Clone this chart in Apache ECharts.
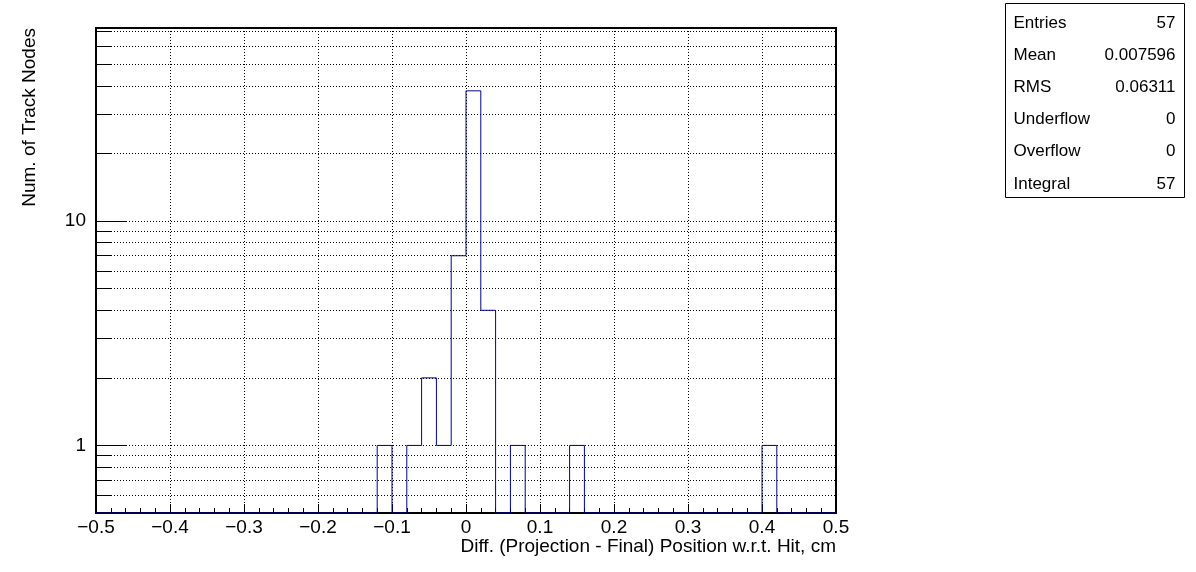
<!DOCTYPE html>
<html>
<head>
<meta charset="utf-8">
<script src="https://cdn.jsdelivr.net/npm/echarts@6/dist/echarts.min.js"></script>
<style>
html,body{margin:0;padding:0;background:#fff;}
#chart{width:1196px;height:572px;}
</style>
</head>
<body>
<div id="chart"></div>
<script>
// ---- data ----
const binLow = -0.5;
const binWidth = 0.02;
const counts = [0,0,0,0,0,0,0,0,0,0, 0,0,0,0,0,0,0,0,0,1, 0,1,2,1,7,38,4,0,1,0, 0,0,1,0,0,0,0,0,0,0, 0,0,0,0,0,1,0,0,0,0];
const xTicks = [-0.5,-0.4,-0.3,-0.2,-0.1,0,0.1,0.2,0.3,0.4,0.5];
const yMajorTicks = [1, 10];
const yAllTicks = [0.6,0.7,0.8,0.9,1,2,3,4,5,6,7,8,9,10,20,30,40,50,60,70];
const statLabels = ['Entries','Mean','RMS','Underflow','Overflow','Integral'];
const statValues = ['57','0.007596','0.06311','0','0','57'];
const xTitle = 'Diff. (Projection - Final) Position w.r.t. Hit, cm';
const yTitle = 'Num. of Track Nodes';

const Y_MIN = 0.5, Y_MAX = 72.4;
const FONT = "'Liberation Sans', Arial, Helvetica, sans-serif";
const LINE_COLOR = '#000099';

const histData = counts.map((c, i) => [binLow + i * binWidth, binLow + (i + 1) * binWidth, c]);

function clampVal(c) { return c > 0 ? c : Y_MIN; }

const chart = echarts.init(document.getElementById('chart'), null, {renderer: 'canvas'});

const statsChildren = [];
statsChildren.push({type: 'rect', shape: {x: 0, y: 0, width: 179, height: 194}, style: {fill: '#fff', stroke: '#000', lineWidth: 1}});
statLabels.forEach((lab, i) => {
  statsChildren.push({type: 'text', x: 8, y: 19.5 + i * 32.2, style: {text: lab, font: '17px ' + FONT, fill: '#000', align: 'left', verticalAlign: 'middle'}});
  statsChildren.push({type: 'text', x: 170, y: 19.5 + i * 32.2, style: {text: statValues[i], font: '17px ' + FONT, fill: '#000', align: 'right', verticalAlign: 'middle'}});
});

const option = {
  backgroundColor: '#fff',
  animation: false,
  grid: {left: 96, right: 360, top: 28, bottom: 59, show: true, borderColor: '#000', borderWidth: 2, backgroundColor: 'transparent'},
  xAxis: {
    type: 'value', min: -0.5, max: 0.5, interval: 0.1,
    axisLine: {show: true, onZero: false, lineStyle: {color: '#000', width: 2}},
    axisTick: {show: true, inside: true, length: 9, lineStyle: {color: '#000', width: 1}},
    minorTick: {show: true, splitNumber: 5, length: 5, lineStyle: {color: '#000', width: 1}},
    splitLine: {show: true, lineStyle: {color: '#000', width: 1, type: [1, 2]}},
    axisLabel: {
      margin: 5, color: '#000', fontSize: 19, fontFamily: FONT,
      formatter: v => {
        const r = Math.round(v * 10) / 10;
        if (r === 0) return '0';
        return (r < 0 ? '\u2212' : '') + Math.abs(r).toFixed(1);
      }
    }
  },
  yAxis: [
    {
      type: 'log', logBase: 10, min: Y_MIN, max: Y_MAX, position: 'left',
      axisLine: {show: true, onZero: false, lineStyle: {color: '#000', width: 2}},
      axisTick: {show: true, inside: true, length: 16, customValues: yAllTicks, lineStyle: {color: '#000', width: 1}},
      splitLine: {show: true, lineStyle: {color: '#000', width: 1, type: [1, 2]}},
      axisLabel: {show: true, customValues: yMajorTicks, margin: 10, color: '#000', fontSize: 19, fontFamily: FONT}
    },
    {
      type: 'log', logBase: 10, min: Y_MIN, max: Y_MAX, position: 'left',
      axisLine: {show: false, onZero: false},
      axisTick: {show: true, inside: true, length: 31, customValues: yMajorTicks, lineStyle: {color: '#000', width: 1}},
      splitLine: {show: false},
      axisLabel: {show: false}
    }
  ],
  series: [{
    type: 'custom',
    coordinateSystem: 'cartesian2d',
    xAxisIndex: 0, yAxisIndex: 0,
    encode: {x: [0, 1], y: 2},
    data: histData,
    z: 5,
    renderItem: function (params, api) {
      const i = params.dataIndex;
      const x0 = api.value(0), x1 = api.value(1), c = api.value(2);
      const prev = i > 0 ? counts[i - 1] : 0;
      const pts = [];
      pts.push(api.coord([x0, clampVal(prev)]));
      pts.push(api.coord([x0, clampVal(c)]));
      pts.push(api.coord([x1, clampVal(c)]));
      if (i === counts.length - 1) pts.push(api.coord([x1, Y_MIN]));
      return {type: 'polyline', shape: {points: pts}, style: {stroke: LINE_COLOR, lineWidth: 1, fill: null}};
    }
  }],
  graphic: [
    {type: 'text', right: 360, top: 537, style: {text: xTitle, font: '19px ' + FONT, fill: '#000'}},
    {type: 'text', x: 30, y: 28, rotation: Math.PI / 2, style: {text: yTitle, font: '19px ' + FONT, fill: '#000', align: 'right', verticalAlign: 'middle'}},
    {type: 'group', left: 1005, top: 3, children: statsChildren}
  ]
};
chart.setOption(option);
</script>
</body>
</html>
